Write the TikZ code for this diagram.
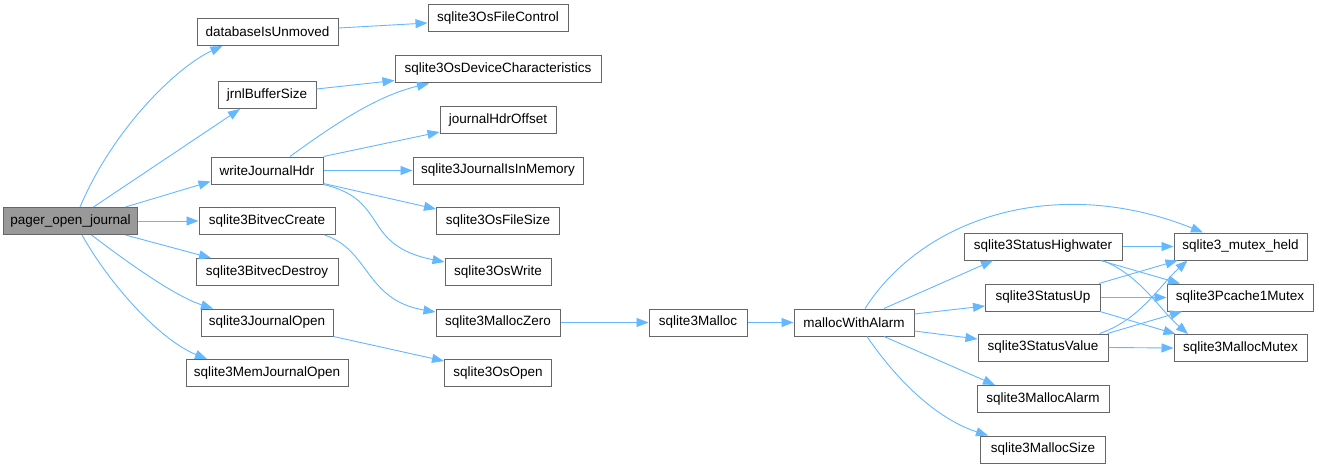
\documentclass[tikz,border=0pt]{standalone}
\usepackage{fontspec}
\setmainfont{Liberation Sans}
\usepackage{xcolor}
\usetikzlibrary{arrows.meta}

\definecolor{edgeblue}{HTML}{63B8FF}
\definecolor{boxgray}{HTML}{666666}
\definecolor{rootgray}{HTML}{999999}

\begin{document}
\begin{tikzpicture}[x=1pt,y=-1pt,
    fn/.style={draw=boxgray,fill=white,line width=1pt,minimum height=27pt,
      inner sep=0pt,font=\fontsize{13.5}{16}\selectfont},
    call/.style={draw=edgeblue,line width=0.9pt,
      -{Triangle[length=12pt,width=9pt,fill=edgeblue]}}]

    \useasboundingbox[fill=white] (0,0) rectangle (1319,468);

    % Root
    \node[fn,fill=rootgray,minimum width=134pt] (pager) at (70.5,221) {pager\_open\_journal};

    % Direct callees
    \node[fn,minimum width=141pt] (dbu)  at (267.5,32)  {databaseIsUnmoved};
    \node[fn,minimum width=98pt]  (jrnl) at (267,95)    {jrnlBufferSize};
    \node[fn,minimum width=112pt] (wjh)  at (267,170.5) {writeJournalHdr};
    \node[fn,minimum width=136pt] (bvc)  at (267,221)   {sqlite3BitvecCreate};
    \node[fn,minimum width=142pt] (bvd)  at (267,272)   {sqlite3BitvecDestroy};
    \node[fn,minimum width=132pt] (jo)   at (267,322.5) {sqlite3JournalOpen};
    \node[fn,minimum width=162pt] (mjo)  at (267,373)   {sqlite3MemJournalOpen};

    % Second level
    \node[fn,minimum width=140pt] (ofc) at (498,18.5)  {sqlite3OsFileControl};
    \node[fn,minimum width=206pt] (odc) at (498,69.5)  {sqlite3OsDeviceCharacteristics};
    \node[fn,minimum width=116pt] (jho) at (498,120)   {journalHdrOffset};
    \node[fn,minimum width=170pt] (jim) at (498,170.5) {sqlite3JournalIsInMemory};
    \node[fn,minimum width=123pt] (ofs) at (498,221)   {sqlite3OsFileSize};
    \node[fn,minimum width=106pt] (ow)  at (498,272)   {sqlite3OsWrite};
    \node[fn,minimum width=124pt] (mz)  at (498,322.5) {sqlite3MallocZero};
    \node[fn,minimum width=107pt] (oo)  at (498,373)   {sqlite3OsOpen};

    % Allocation chain
    \node[fn,minimum width=98pt]  (malloc) at (698,322.5) {sqlite3Malloc};
    \node[fn,minimum width=120pt] (mwa)    at (854,322.5) {mallocWithAlarm};

    \node[fn,minimum width=158pt] (shw)    at (1043,246.5) {sqlite3StatusHighwater};
    \node[fn,minimum width=115pt] (sup)    at (1043,297.5) {sqlite3StatusUp};
    \node[fn,minimum width=130pt] (sval)   at (1043,347.5) {sqlite3StatusValue};
    \node[fn,minimum width=132pt] (malarm) at (1043,399)   {sqlite3MallocAlarm};
    \node[fn,minimum width=125pt] (msize)  at (1043,449.5) {sqlite3MallocSize};

    \node[fn,minimum width=133pt] (mheld) at (1240.5,246.5) {sqlite3\_mutex\_held};
    \node[fn,minimum width=146pt] (pcm)   at (1240,297.5)   {sqlite3Pcache1Mutex};
    \node[fn,minimum width=133pt] (mmx)   at (1240.5,348)   {sqlite3MallocMutex};

    % pager_open_journal -> ...
    \draw[call] ([xshift=9.5pt]pager.north) .. controls (115,125) and (180,65) .. ([xshift=-45pt]dbu.south);
    \draw[call] ([xshift=23pt]pager.north) -- ([xshift=-27pt]jrnl.south);
    \draw[call] ([xshift=55pt]pager.north) -- ([yshift=3pt]wjh.south west);
    \draw[call] (pager.east) -- (bvc.west);
    \draw[call] ([xshift=55pt]pager.south) -- ([xshift=-56pt]bvd.north);
    \draw[call] ([xshift=21pt]pager.south) .. controls (140,272) and (180,298) .. ([xshift=-54pt]jo.north);
    \draw[call] ([xshift=11.5pt]pager.south) .. controls (110,285) and (160,340) .. ([xshift=-60pt]mjo.north);

    % second level calls
    \draw[call] ([yshift=4pt]dbu.east) -- ([yshift=-4.5pt]ofc.west);
    \draw[call] ([yshift=6pt]jrnl.east) -- ([yshift=-11pt]odc.west);
    \draw[call] ([xshift=23pt]wjh.north) .. controls (340,120) and (380,95) .. ([xshift=-69pt]odc.south);
    \draw[call] (wjh.north east) -- ([yshift=-12pt]jho.west);
    \draw[call] (wjh.east) -- (jim.west);
    \draw[call] ([yshift=1pt]wjh.south east) -- ([yshift=12pt]ofs.west);
    \draw[call] (wjh.south east) .. controls (390,200) and (360,245) .. ([yshift=10pt]ow.west);
    \draw[call] ([xshift=-11pt]bvc.south east) .. controls (370,250) and (365,300) .. ([yshift=10.5pt]mz.west);
    \draw[call] (jo.south east) -- ([yshift=12pt]oo.west);

    % allocation chain
    \draw[call] (mz.east) -- (malloc.west);
    \draw[call] (malloc.east) -- (mwa.west);

    \draw[call] ([xshift=11pt]mwa.north) .. controls (925,215) and (1060,175) .. ([xshift=-37.5pt]mheld.north);
    \draw[call] ([xshift=30pt]mwa.north) -- ([xshift=-50pt]shw.south);
    \draw[call] ([yshift=8.5pt]mwa.east) -- ([yshift=-8.5pt]sup.west);
    \draw[call] ([yshift=-8.5pt]mwa.east) -- ([yshift=8.5pt]sval.west);
    \draw[call] ([xshift=30pt]mwa.south) -- ([xshift=-48pt]malarm.north);
    \draw[call] ([xshift=13pt]mwa.south) .. controls (900,385) and (940,420) .. ([xshift=-55pt]msize.north);

    % status counters -> mutexes
    \draw[call] (shw.east) -- (mheld.west);
    \draw[call] ([xshift=-22pt]shw.south east) -- ([xshift=-60pt]pcm.north);
    \draw[call] ([xshift=-20pt]shw.south east) .. controls (1140,275) and (1160,310) .. ([xshift=-52.5pt]mmx.north);

    \draw[call] ([xshift=-2pt]sup.north east) -- ([xshift=4pt]mheld.south west);
    \draw[call] (sup.east) -- (pcm.west);
    \draw[call] ([xshift=-1pt]sup.south east) -- ([xshift=2pt]mmx.north west);

    \draw[call] ([xshift=-9pt]sval.north east) .. controls (1140,320) and (1160,285) .. ([xshift=14pt]mheld.south west);
    \draw[call] ([xshift=-1pt]sval.north east) -- ([xshift=-58pt]pcm.south);
    \draw[call] (sval.east) -- (mmx.west);

\end{tikzpicture}
\end{document}
